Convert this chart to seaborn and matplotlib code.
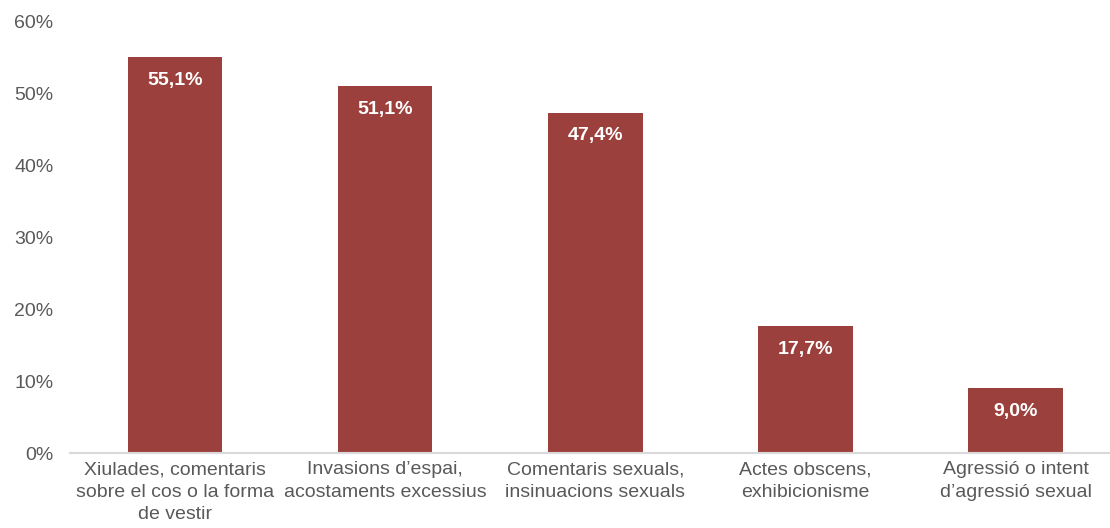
import matplotlib
matplotlib.use("Agg")
import matplotlib.pyplot as plt
import seaborn as sns
import pandas as pd

categories = [
    "Xiulades, comentaris\nsobre el cos o la forma\nde vestir",
    "Invasions d\u2019espai,\nacostaments excessius",
    "Comentaris sexuals,\ninsinuacions sexuals",
    "Actes obscens,\nexhibicionisme",
    "Agressi\u00f3 o intent\nd\u2019agressi\u00f3 sexual",
]
values = [55.1, 51.1, 47.4, 17.7, 9.0]
value_labels = ["55,1%", "51,1%", "47,4%", "17,7%", "9,0%"]
yticks = [0, 10, 20, 30, 40, 50, 60]
ytick_labels = ["0%", "10%", "20%", "30%", "40%", "50%", "60%"]

sns.set_style("white")
plt.rcParams["font.family"] = ["Liberation Sans", "DejaVu Sans"]

df = pd.DataFrame({"cat": categories, "val": values})

fig = plt.figure(figsize=(11.1, 5.28), dpi=100)
ax = fig.add_axes([70 / 1110, 1 - 453 / 528, 1 - 70 / 1110, (453 - 22) / 528])

sns.barplot(data=df, x="cat", y="val", color="#9B403D", saturation=1, width=0.45,
            linewidth=0, ax=ax)

ax.set_ylim(0, 60)
ax.set_xlim(-0.5, 4.45)
ax.set_yticks(yticks)
ax.set_yticklabels(ytick_labels)
ax.set_xlabel("")
ax.set_ylabel("")

for s in ["top", "right", "left"]:
    ax.spines[s].set_visible(False)
ax.spines["bottom"].set_color("#D9D9D9")
ax.spines["bottom"].set_linewidth(1.5)

ax.tick_params(axis="y", length=0, pad=12, labelsize=14, labelcolor="#595959")
ax.tick_params(axis="x", length=0, pad=6, labelsize=14, labelcolor="#595959")
for lbl in ax.get_xticklabels():
    lbl.set_linespacing(1.4)

ax.bar_label(ax.containers[0], labels=value_labels, padding=-23,
             color="white", fontsize=14, fontweight="bold")

fig.savefig("out.png", dpi=100)
